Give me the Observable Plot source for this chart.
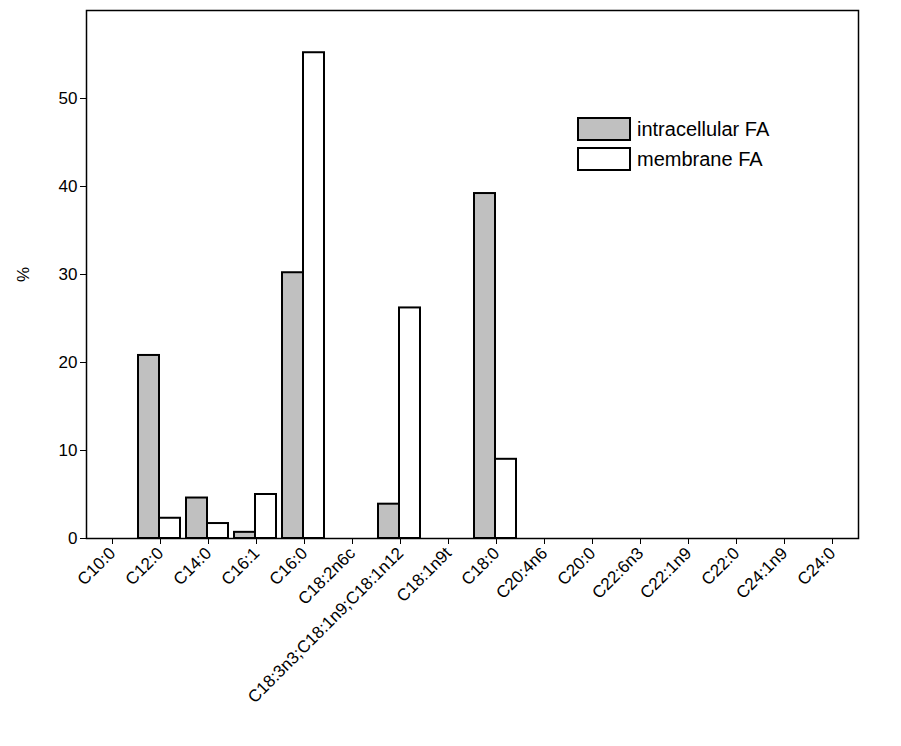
<!DOCTYPE html>
<html><head>
<meta charset="utf-8">
<script src="https://cdn.jsdelivr.net/npm/d3@7"></script>
<script src="https://cdn.jsdelivr.net/npm/@observablehq/plot@0.6"></script>
<style>
body{margin:0;background:#fff;font-family:"Liberation Sans",Arial,sans-serif}
#wrap{position:relative;width:901px;height:746px}
.lg{position:absolute;font-size:20px;display:flex;align-items:center}
.sw{width:50px;height:20px;border:2px solid #000;margin-right:6px}
</style></head><body>
<div id="wrap"></div>
<script>
const categories=["C10:0","C12:0","C14:0","C16:1","C16:0","C18:2n6c","C18:3n3;C18:1n9;C18:1n12","C18:1n9t","C18:0","C20:4n6","C20:0","C22:6n3","C22:1n9","C22:0","C24:1n9","C24:0"];
const intracellular=[0,20.8,4.6,0.7,30.2,0,3.9,0,39.2,0,0,0,0,0,0,0];
const membrane=[0,2.3,1.7,5.0,55.2,0,26.2,0,9.0,0,0,0,0,0,0,0];
const data=categories.map((c,i)=>({c,a:intracellular[i],b:membrane[i]}));
const chart=Plot.plot({
  width:901,height:746,marginLeft:86,marginRight:43,marginTop:10,marginBottom:208,
  style:{fontSize:"17px",fontFamily:"Liberation Sans, Arial, sans-serif",color:"#000"},
  x:{domain:categories,padding:0,label:null,tickRotate:-45,tickSize:6},
  y:{domain:[0,60],ticks:[0,10,20,30,40,50],label:"%",labelArrow:"none",labelAnchor:"center",labelOffset:70,tickSize:6},
  marks:[
    Plot.barY(data,{x:"c",y:"a",fill:"#c0c0c0",stroke:"#000",strokeWidth:2,insetLeft:2,insetRight:25}),
    Plot.barY(data,{x:"c",y:"b",fill:"#fff",stroke:"#000",strokeWidth:2,insetLeft:23,insetRight:4}),
    Plot.frame({stroke:"#000",strokeWidth:1.5})
  ]
});
const w=document.getElementById("wrap");
w.appendChild(chart);
w.insertAdjacentHTML("beforeend",
 '<div class="lg" style="left:577px;top:117px"><div class="sw" style="background:#c0c0c0"></div>intracellular FA</div>'+
 '<div class="lg" style="left:577px;top:147px"><div class="sw" style="background:#fff"></div>membrane FA</div>');
</script>
</body></html>
